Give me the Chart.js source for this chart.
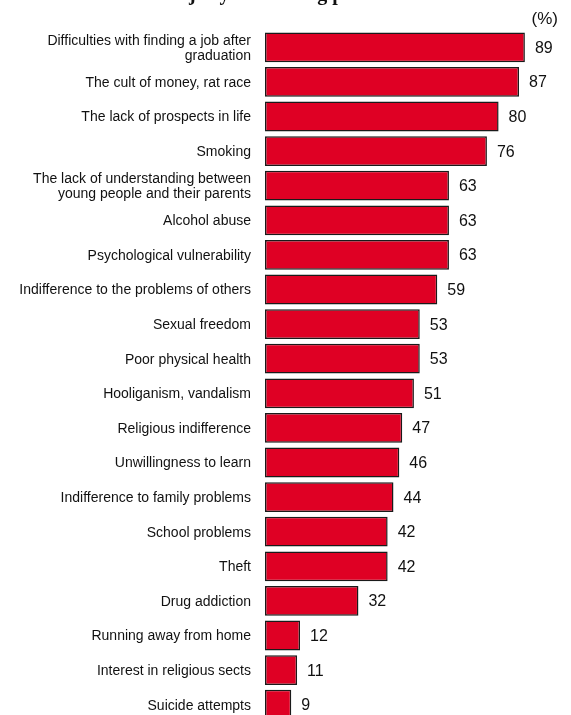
<!DOCTYPE html>
<html>
<head>
<meta charset="utf-8">
<script src="https://cdn.jsdelivr.net/npm/chart.js@4/dist/chart.umd.min.js"></script>
<style>
  html, body { margin: 0; padding: 0; background: #fff; overflow: hidden; }
</style>
</head>
<body>
<canvas id="problems" width="571" height="724"></canvas>
<script>
// problems, top to bottom
var problems = [
    ['Difficulties with finding a job after', 'graduation'],
    'The cult of money, rat race',
    'The lack of prospects in life',
    'Smoking',
    ['The lack of understanding between', 'young people and their parents'],
    'Alcohol abuse',
    'Psychological vulnerability',
    'Indifference to the problems of others',
    'Sexual freedom',
    'Poor physical health',
    'Hooliganism, vandalism',
    'Religious indifference',
    'Unwillingness to learn',
    'Indifference to family problems',
    'School problems',
    'Theft',
    'Drug addiction',
    'Running away from home',
    'Interest in religious sects',
    'Suicide attempts'
];
var shares = [89, 87, 80, 76, 63, 63, 63, 59, 53, 53, 51, 47, 46, 44, 42, 42, 32, 12, 11, 9];
var titleText = 'Major youth-facing problems';
var unitText = '(%)';

// numbers at bar ends + the clipped title and the unit
var extras = {
    id: 'extras',
    afterDatasetsDraw: function (chart) {
        var ctx = chart.ctx;
        var meta = chart.getDatasetMeta(0);
        ctx.save();
        ctx.fillStyle = '#111';
        ctx.font = '16px "Liberation Sans", Arial, sans-serif';
        ctx.textAlign = 'left';
        ctx.textBaseline = 'middle';
        meta.data.forEach(function (bar, i) {
            ctx.fillText(String(shares[i]), bar.x + 10, bar.y + 1);
        });
        ctx.textAlign = 'right';
        ctx.font = '17px "Liberation Sans", Arial, sans-serif';
        ctx.fillText(unitText, 558, 19);
        ctx.textAlign = 'center';
        ctx.textBaseline = 'alphabetic';
        ctx.font = 'bold 20px "Liberation Serif", "Times New Roman", serif';
        ctx.fillText(titleText, 286, 0);
        ctx.restore();
    }
};

var ctx = document.getElementById('problems').getContext('2d');
var chart = new Chart(ctx, {
    type: 'bar',
    data: {
        labels: problems,
        datasets: [{
            data: shares,
            backgroundColor: '#df0024',
            borderColor: '#1a1a1a',
            borderWidth: 1.5,
            borderSkipped: false,
            categoryPercentage: 1,
            barPercentage: 0.86
        }]
    },
    options: {
        indexAxis: 'y',
        responsive: false,
        animation: false,
        layout: { padding: { top: 30, right: 14, bottom: 2, left: 0 } },
        plugins: {
            legend: { display: false },
            tooltip: { enabled: false }
        },
        scales: {
            x: { display: false, min: 0, max: 100 },
            y: {
                grid: { display: false },
                border: { display: false },
                ticks: {
                    color: '#111',
                    padding: 6,
                    labelOffset: 1,
                    font: { family: '"Liberation Sans", Arial, sans-serif', size: 14, lineHeight: 1.07 }
                },
                afterFit: function (scale) {
                    scale.width = 265;
                    // no extra room for half labels at the ends
                    scale.paddingTop = 0;
                    scale.paddingBottom = 0;
                }
            }
        }
    },
    plugins: [extras]
});
</script>
</body>
</html>
